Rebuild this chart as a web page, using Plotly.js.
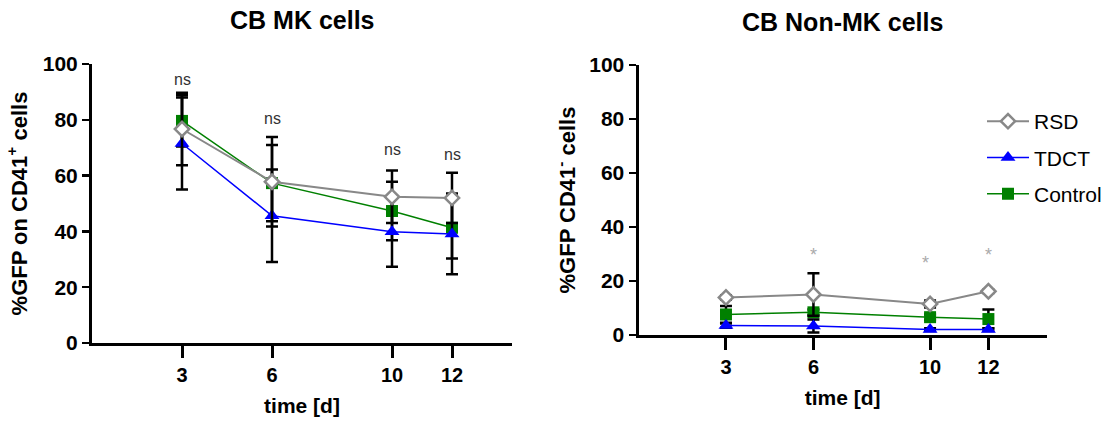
<!DOCTYPE html>
<html>
<head>
<meta charset="utf-8">
<script src="https://cdn.plot.ly/plotly-3.0.1.min.js"></script>
<style>html,body{margin:0;padding:0;background:#fff;}#chart{width:1112px;height:423px;}</style>
</head>
<body>
<div id="chart"></div>
<script>
// ---- data ----
const days = [3, 6, 10, 12];
const xTickLabels = ['3', '6', '10', '12'];
const seriesNames = ['RSD', 'TDCT', 'Control'];

// CB MK cells (% GFP on CD41+ cells)
const mkRSD = [76.7, 57.8, 52.4, 52.0];
const mkRSDErr = [13.0, 16.0, 9.4, 9.0];
const mkTDCT = [71.5, 45.6, 39.9, 39.1];
const mkTDCTErr = [16.5, 16.6, 12.6, 14.5];
const mkControl = [79.6, 57.3, 47.3, 41.3];
const mkControlErr = [9.2, 13.7, 10.5, 11.0];
const mkSigLabels = ['ns', 'ns', 'ns', 'ns'];
const mkSigY = [94.6, 80.3, 69.5, 67.7];

// CB Non-MK cells (% GFP CD41- cells)
const nmRSD = [13.9, 15.0, 11.5, 16.2];
const nmRSDErr = [0.8, 7.9, 1.3, 0.6];
const nmTDCT = [3.5, 3.3, 2.0, 2.0];
const nmTDCTErr = [0.8, 2.4, 0.5, 0.5];
const nmControl = [7.6, 8.4, 6.6, 5.9];
const nmControlErr = [3.1, 1.0, 1.0, 3.5];
const nmSigX = [6, 9.85, 12];
const nmSigY = [29.5, 26.5, 29.5];
const nmSigLabels = ['*', '*', '*'];

// ---- styling ----
const FONT = 'Arial, "Liberation Sans", sans-serif';
const styles = {
  RSD: {line: {color: '#888888', width: 2},
        marker: {symbol: 'diamond', size: 11, color: '#ffffff', line: {width: 2.5, color: '#888888'}}},
  TDCT: {line: {color: '#0000ff', width: 1.5},
        marker: {symbol: 'triangle-up', size: 13, color: '#0000ff'}},
  Control: {line: {color: '#008000', width: 1.5},
        marker: {symbol: 'square', size: 12, color: '#008000'}}
};

function mkTrace(name, y, err, xa, ya, showlegend, rank) {
  const s = styles[name];
  return {
    type: 'scatter', mode: 'lines+markers', name: name,
    x: days, y: y, xaxis: xa, yaxis: ya,
    line: s.line, marker: s.marker,
    error_y: {type: 'data', array: err, visible: true, color: '#000', thickness: 2.5, width: 6},
    showlegend: showlegend, legendgroup: name, legendrank: rank,
    cliponaxis: false
  };
}

const traces = [
  mkTrace('Control', mkControl, mkControlErr, 'x', 'y', false, 3),
  mkTrace('TDCT', mkTDCT, mkTDCTErr, 'x', 'y', false, 2),
  mkTrace('RSD', mkRSD, mkRSDErr, 'x', 'y', false, 1),
  mkTrace('Control', nmControl, nmControlErr, 'x2', 'y2', true, 3),
  mkTrace('TDCT', nmTDCT, nmTDCTErr, 'x2', 'y2', true, 2),
  mkTrace('RSD', nmRSD, nmRSDErr, 'x2', 'y2', true, 1)
];

function xAxis(domain, anchor, standoff) {
  return {
    domain: domain, anchor: anchor, range: [0, 14], fixedrange: true,
    tickmode: 'array', tickvals: days, ticktext: xTickLabels,
    ticks: 'outside', ticklen: 12, tickwidth: 3, tickcolor: '#000',
    showline: true, linewidth: 3, linecolor: '#000', showgrid: false, zeroline: false,
    tickfont: {family: FONT, size: 20, color: '#000', weight: 'bold'},
    title: {text: 'time [d]', font: {family: FONT, size: 21, color: '#000', weight: 'bold'}, standoff: standoff},
    automargin: false
  };
}
function yAxis(domain, anchor, title, standoff) {
  return {
    domain: domain, anchor: anchor, range: [0, 100], fixedrange: true,
    tickvals: [0, 20, 40, 60, 80, 100],
    ticks: 'outside', ticklen: 7, tickwidth: 2.5, tickcolor: '#000',
    showline: true, linewidth: 3, linecolor: '#000', showgrid: false, zeroline: false,
    tickfont: {family: FONT, size: 21, color: '#000', weight: 'bold'},
    title: {text: title, font: {family: FONT, size: 22, color: '#000', weight: 'bold'}, standoff: standoff},
    automargin: false
  };
}

const annotations = [];
days.forEach((d, i) => annotations.push({
  xref: 'x', yref: 'y', x: d, y: mkSigY[i], text: mkSigLabels[i], showarrow: false,
  font: {family: FONT, size: 16, color: '#333'}
}));
nmSigX.forEach((d, i) => annotations.push({
  xref: 'x2', yref: 'y2', x: d, y: nmSigY[i], text: nmSigLabels[i], showarrow: false,
  font: {family: FONT, size: 18, color: '#aaaaaa'}
}));
annotations.push({xref: 'paper', yref: 'paper', x: 302 / 1112, y: 1 - 20 / 423, xanchor: 'center', yanchor: 'middle',
  text: 'CB MK cells', showarrow: false, font: {family: FONT, size: 25, color: '#000', weight: 'bold'}});
annotations.push({xref: 'paper', yref: 'paper', x: 842 / 1112, y: 1 - 22 / 423, xanchor: 'center', yanchor: 'middle',
  text: 'CB Non-MK cells', showarrow: false, font: {family: FONT, size: 25, color: '#000', weight: 'bold'}});

const layout = {
  width: 1112, height: 423,
  margin: {l: 0, r: 0, t: 0, b: 0, pad: 0},
  paper_bgcolor: '#fff', plot_bgcolor: '#fff',
  font: {family: FONT, color: '#000'},
  xaxis: xAxis([92 / 1112, 512 / 1112], 'y', 14),
  yaxis: yAxis([1 - 343 / 423, 1 - 64 / 423], 'x', '%GFP on CD41<sup>+</sup> cells', 10),
  xaxis2: xAxis([638.5 / 1112, 1046.7 / 1112], 'y2', 14),
  yaxis2: yAxis([1 - 335 / 423, 1 - 65 / 423], 'x2', '%GFP CD41<sup>-</sup> cells', 8),
  showlegend: true,
  legend: {
    x: 982 / 1112, y: 1 - 101 / 423, xanchor: 'left', yanchor: 'top',
    traceorder: 'grouped', tracegroupgap: 6, bgcolor: 'rgba(0,0,0,0)',
    font: {family: FONT, size: 21, color: '#000'}, itemwidth: 42
  },
  annotations: annotations
};

Plotly.newPlot('chart', traces, layout, {staticPlot: true, displayModeBar: false});
</script>
</body>
</html>
